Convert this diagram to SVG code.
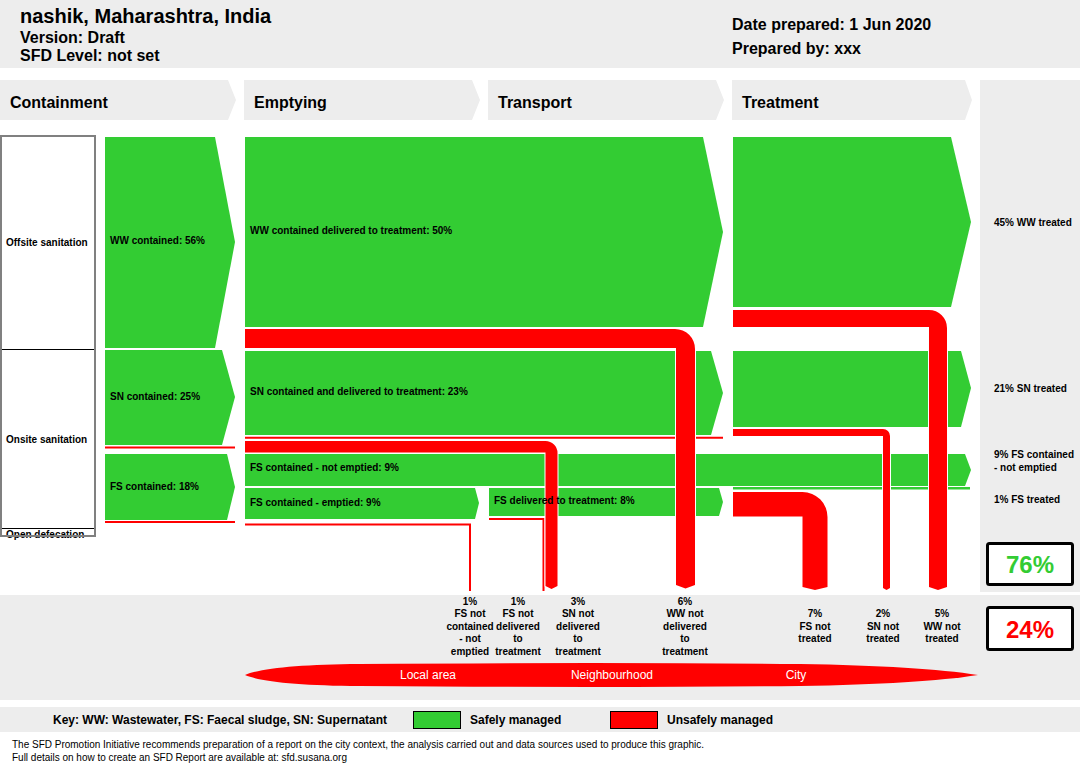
<svg xmlns="http://www.w3.org/2000/svg" width="1080" height="764" viewBox="0 0 1080 764">
<style>
text{font-family:"Liberation Sans",Arial,sans-serif;fill:#000}
.b{font-weight:bold}
.hd{font-size:16px;font-weight:bold}
.lb{font-size:10px;font-weight:bold}
.bl{font-size:10px;font-weight:bold;text-anchor:middle}
.g{fill:#33cc33}
.bg{fill:#ededed}
.pipe{fill:#ff0000;stroke:#ffffff;stroke-width:2;paint-order:stroke}
.thin{fill:none;stroke:#ff0000;stroke-width:2}
.wt{fill:#fff;font-size:12px;text-anchor:middle}
</style>
<rect width="1080" height="764" fill="#fff"/>
<g id="header">
<rect class="bg" x="0" y="0" width="1080" height="68"/>
<text x="20" y="23" class="b" font-size="20">nashik, Maharashtra, India</text>
<text x="20" y="43" class="b" font-size="16">Version: Draft</text>
<text x="20" y="61" class="b" font-size="16">SFD Level: not set</text>
<text x="732" y="30" class="b" font-size="16">Date prepared: 1 Jun 2020</text>
<text x="732" y="54" class="b" font-size="16">Prepared by: xxx</text>
</g>
<g id="stages">
<polygon class="bg" points="0,80 228,80 236,100 228,120 0,120"/>
<polygon class="bg" points="244,80 472,80 480,100 472,120 244,120"/>
<polygon class="bg" points="488,80 716,80 724,100 716,120 488,120"/>
<polygon class="bg" points="732,80 965,80 972,100 965,120 732,120"/>
<text x="10" y="108" class="hd">Containment</text>
<text x="254" y="108" class="hd">Emptying</text>
<text x="498" y="108" class="hd">Transport</text>
<text x="742" y="108" class="hd">Treatment</text>
</g>
<rect id="right-col" class="bg" x="980" y="80" width="100" height="512"/>
<rect id="bottom-band" class="bg" x="0" y="595" width="1080" height="105"/>
<g id="sanitation-types">
<rect x="1" y="136" width="94" height="400" fill="#fff"/>
<text x="6" y="246" class="lb">Offsite sanitation</text>
<text x="6" y="443" class="lb">Onsite sanitation</text>
<text x="6" y="537.5" class="lb">Open defecation</text>
<line x1="0" y1="349.5" x2="95" y2="349.5" stroke="#000" stroke-width="1"/>
<line x1="0" y1="528.5" x2="95" y2="528.5" stroke="#000" stroke-width="1"/>
<rect x="1" y="136" width="94" height="400" fill="none" stroke="#808080" stroke-width="2"/>
</g>
<g id="flows-green">
<polygon id="ww-contained" class="g" points="105,137 215,137 235,242 215,348 105,348"/>
<polygon id="sn-contained" class="g" points="105,350 222,350 235,397 222,445 105,445"/>
<polygon id="fs-contained" class="g" points="105,454 227,454 235,487 227,520 105,520"/>
<polygon id="ww-delivered" class="g" points="245,137 703,137 723,232 703,327 245,327"/>
<polygon id="sn-delivered" class="g" points="245,351 711,351 723,393 711,435 245,435"/>
<polygon id="fs-not-emptied" class="g" points="245,454 965,454 971,470 965,486 245,486"/>
<polygon id="fs-emptied" class="g" points="245,488 475,488 479,503 475,519 245,519"/>
<polygon id="fs-delivered" class="g" points="489,488 719,488 723,502 719,516 489,516"/>
<polygon id="ww-treated" class="g" points="733,137 951,137 971,222 951,307 733,307"/>
<polygon id="sn-treated" class="g" points="733,351 961,351 971,388 961,427 733,427"/>
<rect id="fs-treated" class="g" x="733" y="487" width="237" height="2.5"/>
</g>
<g id="connectors">
<line class="thin" x1="105" y1="447.5" x2="235" y2="447.5"/>
<line class="thin" x1="105" y1="522" x2="235" y2="522"/>
<line class="thin" x1="245" y1="437.7" x2="723" y2="437.7"/>
<polyline class="thin" points="245,524.5 470,524.5 470,591"/>
<polyline class="thin" points="489,519 543.5,519 543.5,591"/>
<path id="ww-not-delivered" class="pipe" d="M245,329 H675 A20,20 0 0 1 695,349 V585 L685.5,588.5 L676,585 V348 H245 Z"/>
<path id="sn-not-delivered" class="pipe" d="M245,441 H545.5 A12,12 0 0 1 557.5,453 V586 L551.5,589 L545.5,586 V452.5 H245 Z"/>
<path id="ww-not-treated" class="pipe" d="M733,310 H929 A18,18 0 0 1 947,328 V587 L938,590 L929,587 V327 H733 Z"/>
<path id="sn-not-treated" class="pipe" d="M733,429 H883 A7,7 0 0 1 890,436 V588 L886.5,590 L883,588 V436 H733 Z"/>
<path id="fs-not-treated" class="pipe" d="M733,492 H802.5 A25,25 0 0 1 827.5,517 V587 L815,590 L802.5,587 V516.5 H733 Z"/>
</g>
<g id="flow-labels">
<text x="110" y="244" class="lb">WW contained: 56%</text>
<text x="110" y="400" class="lb">SN contained: 25%</text>
<text x="110" y="490" class="lb">FS contained: 18%</text>
<text x="250" y="234" class="lb">WW contained delivered to treatment: 50%</text>
<text x="250" y="395" class="lb">SN contained and delivered to treatment: 23%</text>
<text x="250" y="471" class="lb">FS contained - not emptied: 9%</text>
<text x="250" y="506" class="lb">FS contained - emptied: 9%</text>
<text x="494" y="504" class="lb">FS delivered to treatment: 8%</text>
</g>
<g id="outcome-labels">
<text x="994" y="226" class="lb">45% WW treated</text>
<text x="994" y="392" class="lb">21% SN treated</text>
<text x="994" y="458" class="lb">9% FS contained</text>
<text x="994" y="471" class="lb">- not emptied</text>
<text x="994" y="503" class="lb">1% FS treated</text>
</g>
<g id="totals">
<rect x="987.5" y="543.5" width="85" height="41" rx="2" fill="#fff" stroke="#000" stroke-width="3"/>
<text x="1030" y="573" text-anchor="middle" font-size="24" font-weight="bold" style="fill:#33cc33">76%</text>
<rect x="987.5" y="607.5" width="85" height="42" rx="2" fill="#fff" stroke="#000" stroke-width="3"/>
<text x="1030" y="638" text-anchor="middle" font-size="24" font-weight="bold" style="fill:#ff0000">24%</text>
</g>
<g id="unsafe-labels">
<text class="bl" x="470" y="604.5">1%<tspan x="470" dy="12.5">FS not</tspan><tspan x="470" dy="12.5">contained</tspan><tspan x="470" dy="12.5">- not</tspan><tspan x="470" dy="12.5">emptied</tspan></text>
<text class="bl" x="518" y="604.5">1%<tspan x="518" dy="12.5">FS not</tspan><tspan x="518" dy="12.5">delivered</tspan><tspan x="518" dy="12.5">to</tspan><tspan x="518" dy="12.5">treatment</tspan></text>
<text class="bl" x="578" y="604.5">3%<tspan x="578" dy="12.5">SN not</tspan><tspan x="578" dy="12.5">delivered</tspan><tspan x="578" dy="12.5">to</tspan><tspan x="578" dy="12.5">treatment</tspan></text>
<text class="bl" x="685" y="604.5">6%<tspan x="685" dy="12.5">WW not</tspan><tspan x="685" dy="12.5">delivered</tspan><tspan x="685" dy="12.5">to</tspan><tspan x="685" dy="12.5">treatment</tspan></text>
<text class="bl" x="815" y="617">7%<tspan x="815" dy="12.5">FS not</tspan><tspan x="815" dy="12.5">treated</tspan></text>
<text class="bl" x="883" y="617">2%<tspan x="883" dy="12.5">SN not</tspan><tspan x="883" dy="12.5">treated</tspan></text>
<text class="bl" x="942" y="617">5%<tspan x="942" dy="12.5">WW not</tspan><tspan x="942" dy="12.5">treated</tspan></text>
</g>
<g id="scale">
<path d="M245,675 C262,668 300,664.5 360,664 Q600,662 800,664 Q920,666 978,675 Q920,684 800,686 Q600,688 360,686 C300,685.5 262,682 245,675 Z" fill="#ff0000"/>
<text class="wt" x="428" y="679">Local area</text>
<text class="wt" x="612" y="679">Neighbourhood</text>
<text class="wt" x="796" y="679">City</text>
</g>
<g id="key">
<rect class="bg" x="0" y="707" width="1080" height="25"/>
<text x="53" y="724" class="b" font-size="12">Key: WW: Wastewater, FS: Faecal sludge, SN: Supernatant</text>
<rect x="413.5" y="711.5" width="47" height="17" fill="#33cc33" stroke="#000" stroke-width="1"/>
<text x="470" y="724" class="b" font-size="12">Safely managed</text>
<rect x="610.5" y="711.5" width="47" height="17" fill="#ff0000" stroke="#000" stroke-width="1"/>
<text x="667" y="724" class="b" font-size="12">Unsafely managed</text>
</g>
<g id="footer">
<text x="12" y="748" font-size="10" textLength="692" lengthAdjust="spacingAndGlyphs">The SFD Promotion Initiative recommends preparation of a report on the city context, the analysis carried out and data sources used to produce this graphic.</text>
<text x="12" y="761" font-size="10" textLength="335" lengthAdjust="spacingAndGlyphs">Full details on how to create an SFD Report are available at: sfd.susana.org</text>
</g>
</svg>
